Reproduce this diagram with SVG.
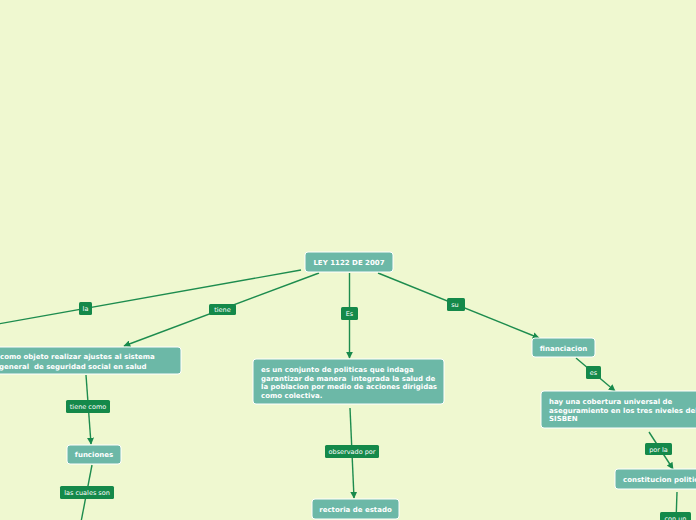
<svg xmlns="http://www.w3.org/2000/svg" width="696" height="520" viewBox="0 0 696 520">
<defs>
<marker id="ah" viewBox="0 0 10 10" refX="9" refY="5" markerWidth="7" markerHeight="7" markerUnits="userSpaceOnUse" orient="auto">
<path d="M0,0 L10,5 L0,10 Z" fill="#188a4c"/>
</marker>
<style>
.n{fill:#6cb8a7;stroke:#ffffff;stroke-width:1}
.nt{font-family:"DejaVu Sans",Verdana,sans-serif;font-weight:bold;font-size:7px;fill:#ffffff;white-space:pre}
.l{fill:#14894a}
.lt{font-family:"DejaVu Sans",Verdana,sans-serif;font-size:6.5px;fill:#ffffff;text-anchor:middle}
.c{stroke:#1d8c4e;stroke-width:1.4;fill:none}
.ca{stroke:#1d8c4e;stroke-width:1.4;fill:none;marker-end:url(#ah)}
</style>
</defs>
<rect x="0" y="0" width="696" height="520" fill="#eff8d0"/>
<g id="connectors">
<line class="c" x1="301" y1="270" x2="-2" y2="324"/>
<line class="ca" x1="319" y1="273" x2="124" y2="346"/>
<line class="ca" x1="349.5" y1="273" x2="349.5" y2="358"/>
<line class="ca" x1="378" y1="273" x2="539" y2="338"/>
<line class="ca" x1="576" y1="358" x2="615" y2="391"/>
<line class="ca" x1="649" y1="432" x2="673" y2="469"/>
<line class="c" x1="677" y1="492" x2="676" y2="522"/>
<line class="ca" x1="350" y1="408" x2="354" y2="498"/>
<line class="ca" x1="86" y1="375" x2="91" y2="444"/>
<line class="c" x1="92" y1="465" x2="81" y2="522"/>
<g id="lbl-la"><rect class="l" x="79" y="302" width="13" height="13" rx="1.5"/><text class="lt" x="85.5" y="311">la</text></g>
<g id="lbl-tiene"><rect class="l" x="209" y="304" width="27" height="11" rx="1.5"/><text class="lt" x="222.5" y="312">tiene</text></g>
<g id="lbl-Es"><rect class="l" x="341" y="307" width="17" height="13" rx="1.5"/><text class="lt" x="349.5" y="316">Es</text></g>
<g id="lbl-su"><rect class="l" x="447" y="298" width="18" height="13" rx="1.5"/><text class="lt" x="455" y="307">su</text></g>
<g id="lbl-es"><rect class="l" x="586" y="366" width="15" height="13" rx="1.5"/><text class="lt" x="593.5" y="375">es</text></g>
<g id="lbl-tienecomo"><rect class="l" x="66" y="400" width="44" height="13" rx="1.5"/><text class="lt" x="88" y="409">tiene como</text></g>
<g id="lbl-lascuales"><rect class="l" x="60" y="486" width="54" height="13" rx="1.5"/><text class="lt" x="87" y="495">las cuales son</text></g>
<g id="lbl-observado"><rect class="l" x="325" y="445" width="54" height="13" rx="1.5"/><text class="lt" x="352" y="454">observado por</text></g>
<g id="lbl-porla"><rect class="l" x="645" y="443" width="27" height="12" rx="1.5"/><text class="lt" x="658.5" y="451.5">por la</text></g>
<g id="lbl-conun"><rect class="l" x="660" y="512" width="31" height="13" rx="1.5"/><text class="lt" x="675.5" y="521">con un</text></g>
</g>
<g id="n-root"><rect class="n" x="305" y="252" width="88" height="20" rx="3"/><text class="nt" x="349" y="265" text-anchor="middle">LEY 1122 DE 2007</text></g>
<g id="n-objeto"><rect class="n" x="-10" y="347" width="191" height="27" rx="3"/><text class="nt" x="0" y="359">como objeto realizar ajustes al sistema</text><text class="nt" x="-1" y="368.5">general  de seguridad social en salud</text></g>
<g id="n-funciones"><rect class="n" x="67" y="445" width="54" height="19" rx="3"/><text class="nt" x="94" y="457" text-anchor="middle">funciones</text></g>
<g id="n-conjunto"><rect class="n" x="253" y="359" width="191" height="45" rx="3"/><text class="nt" x="261" y="372">es un conjunto de politicas que indaga</text><text class="nt" x="261" y="380.5">garantizar de manera  integrada la salud de</text><text class="nt" x="261" y="389">la poblacion por medio de acciones dirigidas</text><text class="nt" x="261" y="397.5">como colectiva.</text></g>
<g id="n-rectoria"><rect class="n" x="312" y="499" width="87" height="20" rx="3"/><text class="nt" x="355.5" y="512" text-anchor="middle">rectoria de estado</text></g>
<g id="n-financiacion"><rect class="n" x="532" y="338" width="63" height="19" rx="3"/><text class="nt" x="563.5" y="350.5" text-anchor="middle">financiacion</text></g>
<g id="n-cobertura"><rect class="n" x="541" y="391" width="170" height="37" rx="3"/><text class="nt" x="549" y="404">hay una cobertura universal de</text><text class="nt" x="549" y="412.5">aseguramiento en los tres niveles del</text><text class="nt" x="549" y="421">SISBEN</text></g>
<g id="n-constitucion"><rect class="n" x="615" y="469" width="95" height="20" rx="3"/><text class="nt" x="623" y="482">constitucion politica</text></g>
</svg>
